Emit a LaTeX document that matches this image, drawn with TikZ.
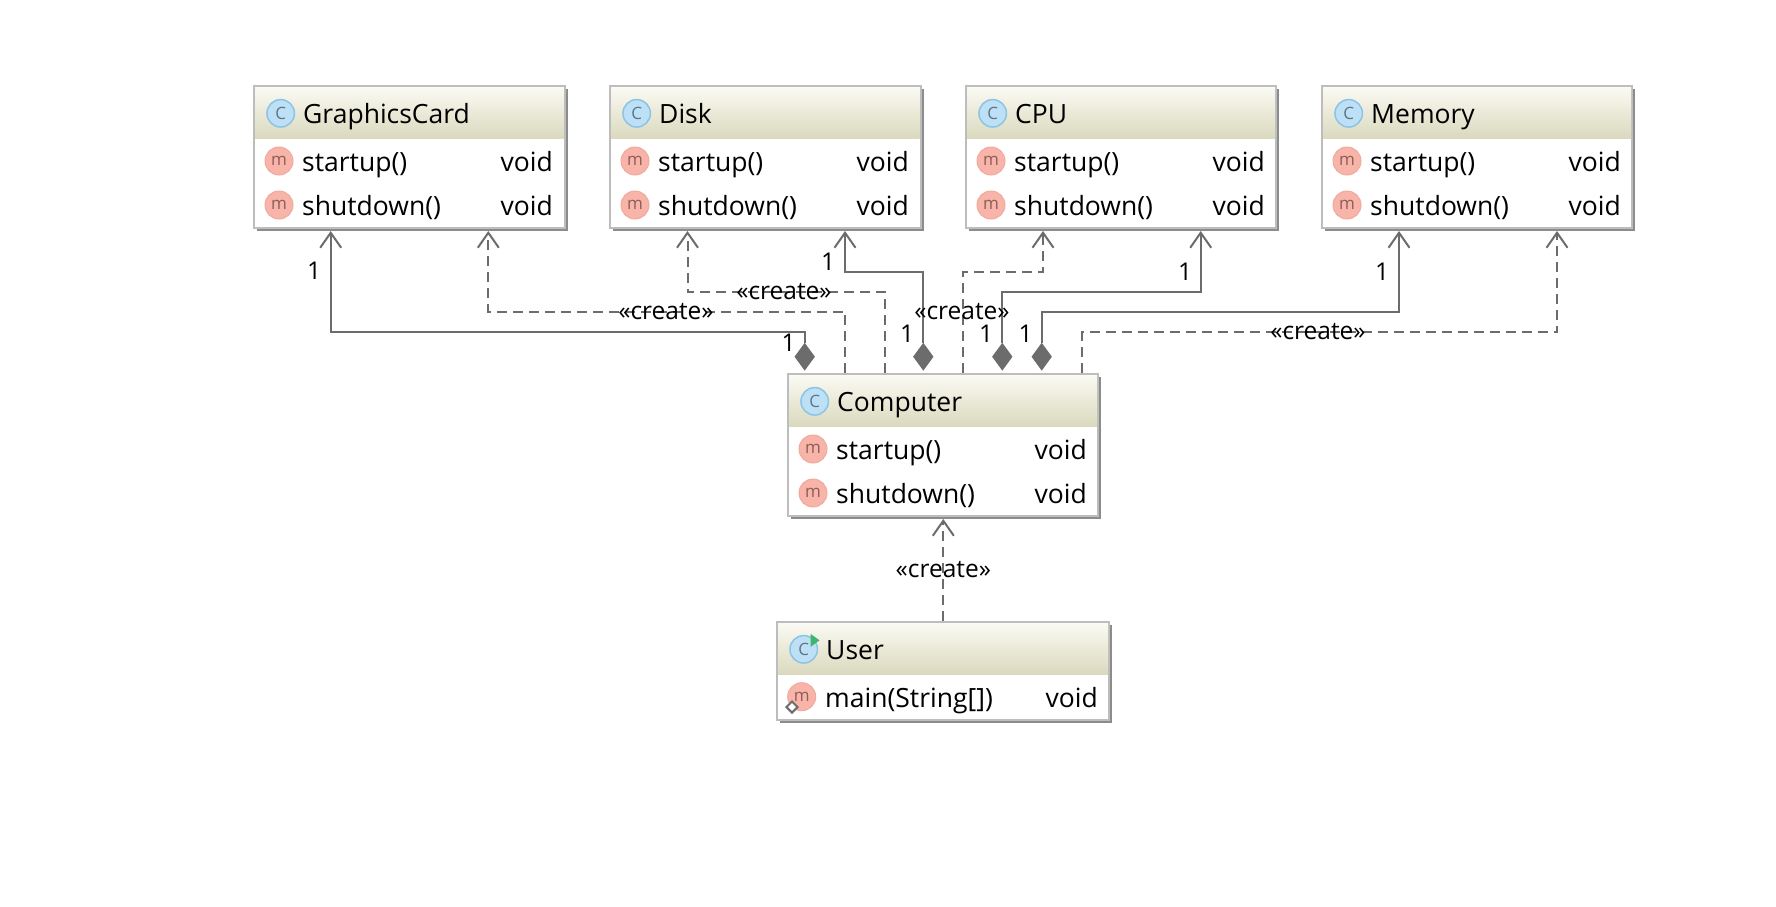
\documentclass[tikz,border=0pt]{standalone}
\usepackage{fontspec}
\setmainfont{Open Sans}
\usetikzlibrary{arrows.meta,calc,shapes.geometric}
\definecolor{lineGray}{HTML}{6C6C6C}
\definecolor{boxEdge}{HTML}{BDBDBD}
\definecolor{boxShadow}{HTML}{8C8C8C}
\definecolor{headTop}{HTML}{FBFAF3}
\definecolor{headBot}{HTML}{DAD9BE}
\definecolor{cFill}{HTML}{BEE0F6}
\definecolor{cEdge}{HTML}{8CC4E6}
\definecolor{cText}{HTML}{5C7688}
\definecolor{mFill}{HTML}{F8B4A9}
\definecolor{mEdge}{HTML}{F0AA9E}
\definecolor{mText}{HTML}{8A5F58}
\definecolor{runGreen}{HTML}{3DB56E}
\tikzset{
  boxbody/.style={draw=boxEdge,line width=2pt,fill=white,anchor=north west,inner sep=0pt,outer sep=0pt},
  boxhead/.style={top color=headTop,bottom color=headBot,anchor=north west,inner sep=0pt,outer sep=0pt,draw=none},
  titletext/.style={anchor=base west,inner sep=0pt,font=\fontsize{26.5}{30}\selectfont},
  rowtext/.style={anchor=base west,inner sep=0pt,font=\fontsize{26.5}{30}\selectfont},
  voidtext/.style={anchor=base east,inner sep=0pt,font=\fontsize{26.5}{30}\selectfont},
  cicon/.style={circle,draw=cEdge,line width=1.5pt,fill=cFill,minimum size=27.5pt,inner sep=0pt,text=cText,font=\fontsize{17}{17}\selectfont},
  micon/.style={circle,draw=mEdge,line width=1pt,fill=mFill,minimum size=28pt,inner sep=0pt,text=mText,font=\fontsize{17}{17}\selectfont},
  assoc/.style={draw=lineGray,line width=2pt,-{Straight Barb[length=15pt,width=21pt,line width=2pt]}},
  dep/.style={assoc,dash pattern=on 10pt off 6pt},
  comp/.style={diamond,fill=lineGray,minimum width=20.5pt,minimum height=28pt,inner sep=0pt},
  lbl/.style={inner sep=0pt,font=\fontsize{24.5}{28}\selectfont},
}
% id, x, y, width, height, title
\newcommand{\umlclass}[6]{%
  \fill[boxShadow] (#2+3,#3+3) rectangle (#2+#4+3,#3+#5+3);
  \node[boxbody,minimum width=#4pt,minimum height=#5pt] (#1) at (#2,#3) {};
  \node[boxhead,minimum width=#4pt-2pt,minimum height=51.5pt] (#1-head) at (#2+1,#3+1) {};
  \node[cicon] (#1-icon) at (#2+26.7,#3+27.3) {C};
  \node[titletext] (#1-title) at (#2+49,#3+37.5) {#6};
}
% id, rowid, x, y, row baseline offset, text
\newcommand{\umlrow}[6]{%
  \node[micon] (#1-#2-icon) at (#3+25,#4+#5-9) {m};
  \node[rowtext] (#1-#2) at (#3+48,#4+#5+1) {#6};
  \node[voidtext] (#1-#2-void) at (#3+299,#4+#5+1) {void};
}
\begin{document}
\begin{tikzpicture}[x=1pt,y=-1pt]
\useasboundingbox (0,0) rectangle (1776,906);
\fill[white] (0,0) rectangle (1776,906);
\coordinate (lvA) at (0,271.7);
\coordinate (lvB) at (0,291.7);
\coordinate (lvC) at (0,311.7);
\coordinate (lvD) at (0,332.2);
% classes
\umlclass{gc}{254}{86}{310.5}{142}{GraphicsCard}
\umlrow{gc}{a}{254}{86}{84}{startup()}
\umlrow{gc}{b}{254}{86}{128}{shutdown()}
\umlclass{disk}{610}{86}{310.5}{142}{Disk}
\umlrow{disk}{a}{610}{86}{84}{startup()}
\umlrow{disk}{b}{610}{86}{128}{shutdown()}
\umlclass{cpu}{966}{86}{310}{142}{CPU}
\umlrow{cpu}{a}{966}{86}{84}{startup()}
\umlrow{cpu}{b}{966}{86}{128}{shutdown()}
\umlclass{mem}{1322}{86}{310}{142}{Memory}
\umlrow{mem}{a}{1322}{86}{84}{startup()}
\umlrow{mem}{b}{1322}{86}{128}{shutdown()}
\umlclass{comp}{788}{374}{310}{142}{Computer}
\umlrow{comp}{a}{788}{374}{84}{startup()}
\umlrow{comp}{b}{788}{374}{128}{shutdown()}
\umlclass{user}{777}{622}{332}{98}{User}
\node[micon] (user-a-icon) at (801.7,696.7) {m};
\node[rowtext] (user-a) at (825,707.7) {main(String[])};
\node[voidtext] (user-a-void) at (1098,707.7) {void};
\fill[runGreen] (810.7,634) -- (819.5,640.3) -- (810.7,646.7) -- cycle;
\node[diamond,draw=lineGray,line width=2pt,fill=white,minimum size=12pt,inner sep=0pt] (user-a-mark) at (792,707) {};
% diamonds
\node[comp] (d1) at (804.7,356.7) {};
\node[comp] (d2) at (923.3,356.7) {};
\node[comp] (d3) at (1002.3,356.7) {};
\node[comp] (d4) at (1041.7,356.7) {};
% anchors on class edges
\coordinate (gcS) at ($(gc.south west)+(76.7,3)$);
\coordinate (gcD) at ($(gc.south west)+(234.3,3)$);
\coordinate (diskD) at ($(disk.south west)+(77.5,3)$);
\coordinate (diskS) at ($(disk.south west)+(235,3)$);
\coordinate (cpuD) at ($(cpu.south west)+(77,3)$);
\coordinate (cpuS) at ($(cpu.south west)+(234.7,3)$);
\coordinate (memS) at ($(mem.south west)+(77,3)$);
\coordinate (memD) at ($(mem.south west)+(235,3)$);
\coordinate (c1) at ($(comp.north west)+(57.3,-1)$);
\coordinate (c2) at ($(comp.north west)+(97,-1)$);
\coordinate (c3) at ($(comp.north west)+(175.3,-1)$);
\coordinate (c4) at ($(comp.north west)+(294.3,-1)$);
\coordinate (uT) at ($(user.north west)+(166.3,-1)$);
\coordinate (cB) at ($(comp.south west)+(155.3,3)$);
% solid associations
\draw[assoc] (d1.north) -- (d1.north |- lvD) -| (gcS);
\draw[assoc] (d2.north) -- (d2.north |- lvA) -| (diskS);
\draw[assoc] (d3.north) -- (d3.north |- lvB) -| (cpuS);
\draw[assoc] (d4.north) -- (d4.north |- lvC) -| (memS);
% dashed dependencies
\draw[dep] (c1) -- (c1 |- lvC) -| (gcD);
\draw[dep] (c2) -- (c2 |- lvB) -| (diskD);
\draw[dep] (c3) -- (c3 |- lvA) -| (cpuD);
\draw[dep] (c4) -- (c4 |- lvD) -| (memD);
\draw[dep] (uT) -- (cB);
% labels
\node[lbl] (l1) at (666,312) {«create»};
\node[lbl] (l2) at (784,292) {«create»};
\node[lbl] (l3) at (962,312) {«create»};
\node[lbl] (l4) at (1318,332) {«create»};
\node[lbl] (l5) at (943.3,570) {«create»};
\node[lbl] (n1) at (314,271) {1};
\node[lbl] (n2) at (828,262) {1};
\node[lbl] (n3) at (1185,271.5) {1};
\node[lbl] (n4) at (1382,271.5) {1};
\node[lbl] (n5) at (788.5,342.5) {1};
\node[lbl] (n6) at (907,334) {1};
\node[lbl] (n7) at (986,334) {1};
\node[lbl] (n8) at (1025.5,334) {1};
\end{tikzpicture}
\end{document}
